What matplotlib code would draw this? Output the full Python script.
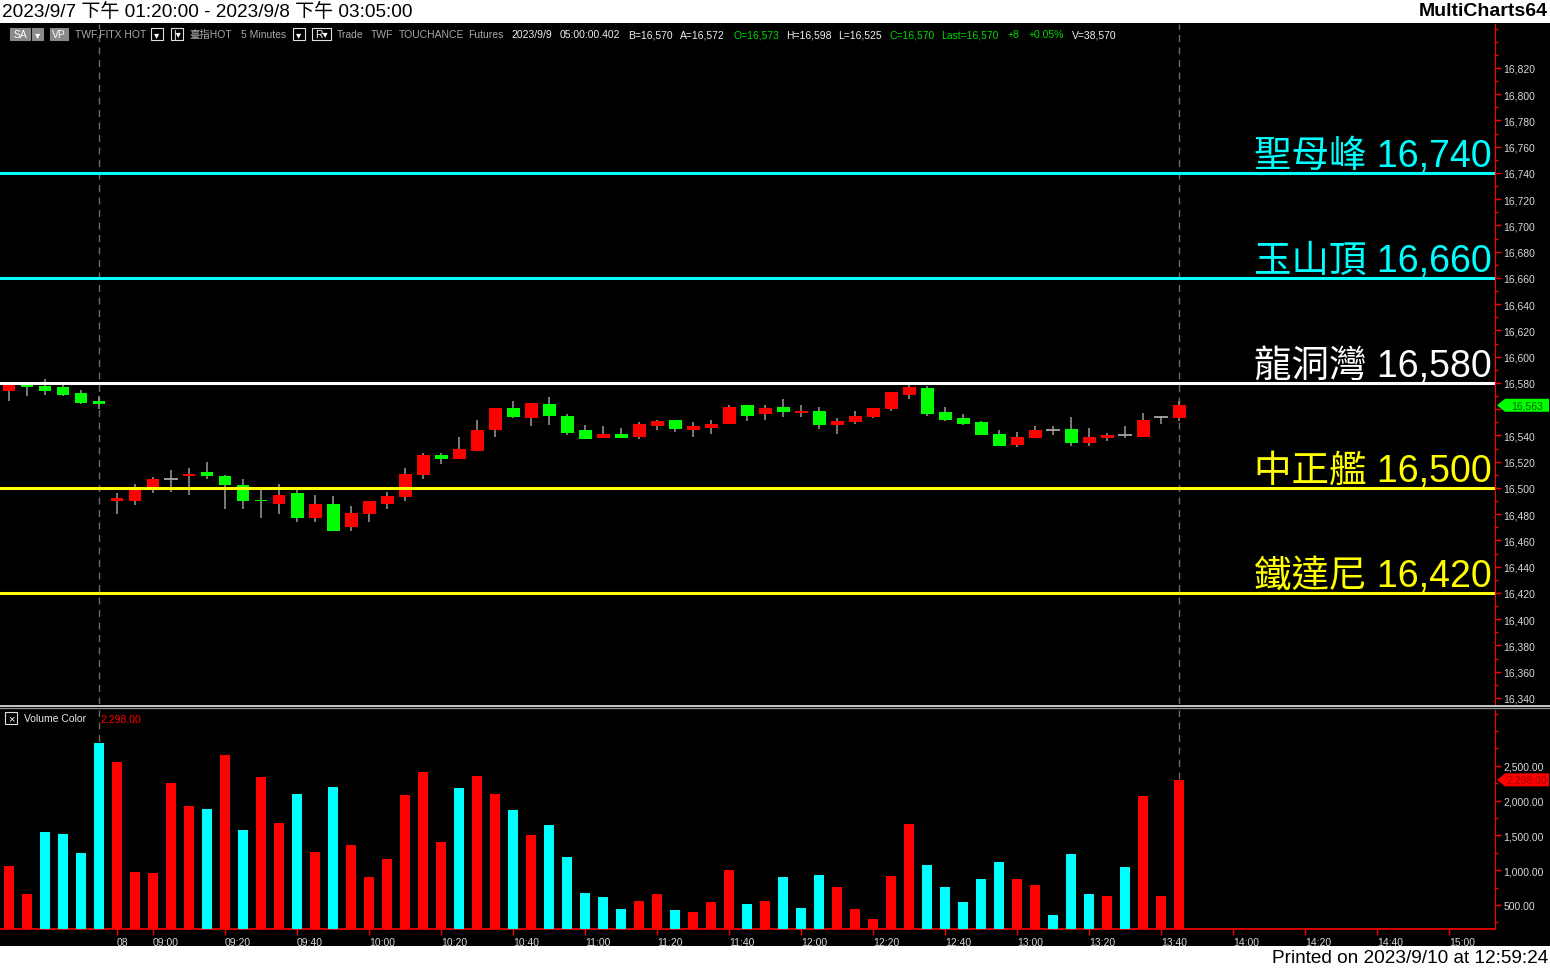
import matplotlib
matplotlib.use('Agg')
import matplotlib.pyplot as plt
from matplotlib.patches import Rectangle, Polygon
from matplotlib.ticker import MultipleLocator, FixedLocator, FuncFormatter
from matplotlib.transforms import blended_transform_factory

# 5 minute bars: 0-5 = 2023/9/7 13:20-13:45, 6-65 = 2023/9/8 08:50-13:45
opens = [16574, 16579, 16578, 16577, 16572, 16566,
         16490, 16490, 16500, 16507, 16509, 16512, 16509, 16502, 16491, 16488,
         16496, 16477, 16488, 16470, 16480, 16488, 16493, 16510, 16525, 16522,
         16528, 16544, 16561, 16553, 16564, 16555, 16544, 16538, 16541, 16539,
         16547, 16552, 16544, 16546, 16549, 16563, 16556, 16562, 16557, 16559,
         16548, 16550, 16554, 16560, 16571, 16576, 16558, 16553, 16550, 16541,
         16533, 16538, 16544, 16545, 16534, 16538, 16540, 16539, 16554, 16553]
highs = [16581, 16581, 16583, 16579, 16575, 16570,
         16496, 16503, 16508, 16514, 16515, 16520, 16510, 16507, 16499, 16503,
         16499, 16495, 16494, 16486, 16490, 16497, 16515, 16527, 16527, 16539,
         16552, 16561, 16566, 16565, 16569, 16556, 16548, 16547, 16546, 16550,
         16552, 16552, 16550, 16552, 16563, 16563, 16563, 16568, 16563, 16562,
         16553, 16559, 16561, 16573, 16580, 16578, 16562, 16556, 16551, 16544,
         16543, 16547, 16547, 16554, 16546, 16542, 16547, 16557, 16555, 16566]
lows = [16566, 16570, 16571, 16570, 16564, 16560,
        16480, 16487, 16496, 16497, 16495, 16507, 16484, 16484, 16477, 16480,
        16474, 16474, 16467, 16467, 16474, 16484, 16490, 16507, 16518, 16522,
        16528, 16539, 16553, 16547, 16548, 16540, 16537, 16538, 16538, 16537,
        16544, 16543, 16539, 16541, 16549, 16551, 16552, 16554, 16554, 16545,
        16541, 16549, 16553, 16559, 16568, 16555, 16551, 16548, 16540, 16532,
        16531, 16538, 16540, 16532, 16532, 16536, 16538, 16539, 16549, 16551]
closes = [16579, 16577, 16574, 16571, 16565, 16564,
          16492, 16499, 16507, 16507, 16511, 16509, 16502, 16490, 16490, 16495,
          16477, 16488, 16467, 16481, 16490, 16494, 16511, 16525, 16522, 16530,
          16544, 16561, 16554, 16565, 16555, 16542, 16537, 16541, 16538, 16549,
          16551, 16545, 16547, 16549, 16562, 16555, 16561, 16558, 16559, 16548,
          16551, 16555, 16561, 16573, 16577, 16556, 16552, 16549, 16540, 16532,
          16539, 16544, 16544, 16534, 16539, 16540, 16540, 16552, 16554, 16563]
volumes = [1060, 658, 1549, 1520, 1247, 2828,
           2555, 974, 960, 2253, 1922, 1879, 2655, 1578, 2339, 1678,
           2095, 1261, 2195, 1362, 902, 1161, 2080, 2411, 1405, 2181,
           2353, 2095, 1865, 1506, 1649, 1190, 672, 615, 443, 557,
           658, 428, 399, 543, 1003, 514, 557, 902, 457, 931,
           759, 443, 299, 917, 1664, 1075, 759, 543, 874, 1118,
           874, 787, 356, 1233, 658, 629, 1046, 2066, 629, 2298]
# 1 = red volume bar, 0 = cyan volume bar
volume_up = [1, 1, 0, 0, 0, 0,
             1, 1, 1, 1, 1, 0, 1, 0, 1, 1,
             0, 1, 0, 1, 1, 1, 1, 1, 1, 0,
             1, 1, 0, 1, 0, 0, 0, 0, 0, 1,
             1, 0, 1, 1, 1, 0, 1, 0, 0, 0,
             1, 1, 1, 1, 1, 0, 0, 0, 0, 0,
             1, 1, 0, 0, 0, 1, 0, 1, 1, 1]

levels = [16740, 16660, 16580, 16500, 16420]
level_names = ['聖母峰', '玉山頂', '龍洞灣', '中正艦', '鐵達尼']
level_colors = ['#00ffff', '#00ffff', '#ffffff', '#ffff00', '#ffff00']

time_tick_pos = [6, 8, 12, 16, 20, 24, 28, 32, 36, 40, 44, 48, 52, 56, 60, 64, 68, 72, 76, 80]
time_tick_labels = ['08', '09:00', '09:20', '09:40', '10:00', '10:20', '10:40', '11:00',
                    '11:20', '11:40', '12:00', '12:20', '12:40', '13:00', '13:20',
                    '13:40', '14:00', '14:20', '14:40', '15:00']
day_break_bar = 5
last_bar = 65
last_price = 16563
last_volume = 2298

W, H = 1550, 970
FONT = ['Liberation Sans', 'Noto Sans CJK TC', 'DejaVu Sans']
plt.rcParams['font.family'] = FONT

def fx(x):
    return x / W

def fy(y):
    return 1 - y / H

fig = plt.figure(figsize=(W / 100, H / 100), dpi=100, facecolor='black')

# ---- price pane ----
ax = fig.add_axes([0, fy(705), fx(1495), (705 - 25) / H])
ax.set_facecolor('black')
ax.set_xlim(-0.5, 82.55)
ax.set_ylim(16335.4, 16853.5)

xs = list(range(len(opens)))
ax.vlines(xs, lows, highs, color='#9a9a9a', lw=1.1, zorder=2)
for i in xs:
    o, c = opens[i], closes[i]
    if c == o:
        ax.hlines(c, i - 0.38, i + 0.38, color='#a8a8a8', lw=1.3, zorder=3)
    else:
        col = '#ff0000' if c > o else '#00ff00'
        ax.bar(i, abs(c - o), bottom=min(o, c), width=0.72, color=col, zorder=3)

yb = blended_transform_factory(ax.transAxes, ax.transData)
for lvl, name, col in zip(levels, level_names, level_colors):
    ax.axhline(lvl, color=col, lw=2.2, zorder=4)
    ax.text(1492 / 1495, lvl + 5.5, f'{name} {lvl:,}', transform=yb, ha='right',
            va='baseline', fontsize=27, color=col, zorder=5)

# the last-price tag covers the 16,560 label, as in the reference
def price_label(v, p):
    if abs(v - last_price) < 10:
        return ''
    return f'{v:,.0f}'

ax.yaxis.tick_right()
ax.yaxis.set_major_locator(FixedLocator(range(16340, 16821, 20)))
ax.yaxis.set_minor_locator(MultipleLocator(10))
ax.yaxis.set_major_formatter(FuncFormatter(price_label))
ax.tick_params(axis='y', which='major', color='red', labelcolor='#d8d8d8',
               length=4, width=1, pad=2, labelsize=7.5)
ax.tick_params(axis='y', which='minor', color='red', length=2.5, width=1)
ax.set_xticks([])
for s in ['top', 'left', 'bottom']:
    ax.spines[s].set_visible(False)
ax.spines['right'].set_color('red')

# ---- volume pane ----
ax2 = fig.add_axes([0, fy(930), fx(1495), (930 - 711) / H])
ax2.set_facecolor('black')
ax2.set_xlim(-0.5, 82.55)
ax2.set_ylim(155, 3302)
vcols = ['#ff0000' if u else '#00ffff' for u in volume_up]
ax2.bar(xs, [v - 155 for v in volumes], bottom=155, width=0.6, color=vcols, zorder=3)
ax2.yaxis.tick_right()
ax2.yaxis.set_major_locator(FixedLocator([500, 1000, 1500, 2000, 2500]))
ax2.yaxis.set_minor_locator(MultipleLocator(250))
ax2.yaxis.set_major_formatter(FuncFormatter(lambda v, p: f'{v:,.2f}'))
ax2.tick_params(axis='y', which='major', color='red', labelcolor='#d8d8d8',
                length=4, width=1, pad=2, labelsize=7.5)
ax2.tick_params(axis='y', which='minor', color='red', length=2.5, width=1)
ax2.set_xticks(time_tick_pos)
ax2.set_xticklabels(time_tick_labels, ha='left')
ax2.tick_params(axis='x', color='red', labelcolor='#d8d8d8', length=4, width=1,
                pad=2, labelsize=7.5)
for s in ['top', 'left']:
    ax2.spines[s].set_visible(False)
ax2.spines['right'].set_color('red')
ax2.spines['bottom'].set_color('red')
ax2.spines['bottom'].set_linewidth(1.2)

for a in (ax, ax2):
    for bx in (day_break_bar, last_bar):
        a.axvline(bx, color='#6a6a6a', lw=1, ls=(0, (5, 4)), zorder=1)

# pane separator
fig.add_artist(plt.Line2D([0, 1], [fy(706.5)] * 2, color='#e8e8e8', lw=1.2))
fig.add_artist(plt.Line2D([0, 1], [fy(709)] * 2, color='#8a8a8a', lw=1.0))

# ---- value tags on the right axis ----
def tag(axis, value, text, fc, tc):
    yd = axis.transData.transform((0, value))[1] / H
    hh = 6.5 / H
    pts = [(fx(1497), yd), (fx(1505), yd + hh), (fx(1549), yd + hh),
           (fx(1549), yd - hh), (fx(1505), yd - hh)]
    fig.add_artist(Polygon(pts, closed=True, fc=fc, ec='none', transform=fig.transFigure))
    fig.text(fx(1527), yd, text, ha='center', va='center', fontsize=7.5, color=tc)

tag(ax, last_price, f'{last_price:,}', '#00ff00', '#006000')
tag(ax2, last_volume, f'{last_volume:,.2f}', '#ff0000', '#a00000')

# ---- white title / footer strips ----
fig.add_artist(Rectangle((0, fy(24)), 1, 24 / H, fc='white', ec='none', transform=fig.transFigure))
fig.add_artist(Rectangle((0, 0), 1, 23 / H, fc='white', ec='none', transform=fig.transFigure))
fig.text(fx(2), fy(12), '2023/9/7 下午 01:20:00 - 2023/9/8 下午 03:05:00', ha='left',
         va='center', fontsize=13.7, color='black')
fig.text(fx(1548), fy(12), 'MultiCharts64', ha='right', va='center', fontsize=14,
         fontweight='bold', color='black')
fig.text(fx(1548), fy(959), 'Printed on 2023/9/10 at 12:59:24', ha='right', va='center',
         fontsize=13.7, color='black')

# ---- symbol status line ----
def box(x0, x1, text, filled):
    fc = '#8a8a8a' if filled else 'black'
    ec = '#8a8a8a' if filled else '#e0e0e0'
    fig.add_artist(Rectangle((fx(x0), fy(41)), (x1 - x0) / W, 12 / H, fc=fc, ec=ec,
                             lw=0.8, transform=fig.transFigure))
    fig.text(fx((x0 + x1) / 2), fy(35), text, ha='center', va='center', fontsize=7.5,
             color='white')

box(10, 30, 'SA', True)
box(32, 43, '▾', True)
box(50, 68, 'VP', True)
box(151, 163, '▾', False)
box(171, 183, '|▾', False)
box(293, 305, '▾', False)
box(312, 331, 'R▾', False)

gray, white, green = '#a8a8a8', '#f0f0f0', '#00d800'
status = [(75, 'TWF.FITX HOT', gray), (189, '臺指HOT', gray), (241, '5 Minutes', gray),
          (337, 'Trade', gray), (371, 'TWF', gray), (399, 'TOUCHANCE', gray),
          (468, 'Futures', gray), (511, '2023/9/9', white), (560, '05:00:00.402', white),
          (628, 'B=16,570', white), (680, 'A=16,572', white), (733, 'O=16,573', green),
          (786, 'H=16,598', white), (838, 'L=16,525', white), (889, 'C=16,570', green),
          (941, 'Last=16,570', green), (1008, '+8', green), (1029, '+0.05%', green),
          (1072, 'V=38,570', white)]
for xp, txt, col in status:
    fig.text(fx(xp), fy(35), txt, ha='left', va='center', fontsize=7.5, color=col)

# ---- volume pane legend ----
fig.add_artist(Rectangle((fx(5), fy(725)), 12 / W, 12 / H, fc='black', ec='#e0e0e0',
                         lw=0.8, transform=fig.transFigure))
fig.text(fx(11), fy(719), '×', ha='center', va='center', fontsize=8, color='white')
fig.text(fx(24), fy(719), 'Volume Color', ha='left', va='center', fontsize=7.5, color='#e8e8e8')
fig.text(fx(100), fy(719), f'{last_volume:,.2f}', ha='left', va='center', fontsize=7.5,
         color='#ff0000')

fig.savefig('out.png', dpi=100, facecolor='black')
